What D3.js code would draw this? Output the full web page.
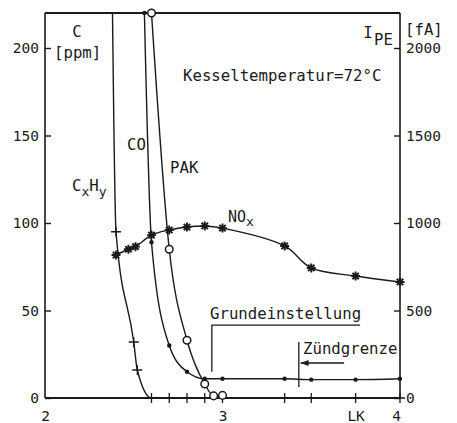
<!DOCTYPE html>
<html>
<head>
<meta charset="utf-8">
<script src="https://cdn.jsdelivr.net/npm/d3@7"></script>
<style>
  html, body { margin: 0; padding: 0; background: #ffffff; }
  svg { display: block; }
  .mono { font-family: "DejaVu Sans Mono", monospace; fill: #1a1a1a; }
</style>
</head>
<body>
<svg id="chart" width="457" height="423"></svg>
<script>
// ---------- data ----------
const xTickValues = [2, 3, 3.75, 4];
const xTickLabels = ["2", "3", "LK", "4"];
const yLeftTicks = [0, 50, 100, 150, 200];
const yRightTicks = [0, 500, 1000, 1500, 2000];

// C_xH_y  [ppm]  (+ markers)
const cxhyX = [2.38, 2.4, 2.5, 2.52, 2.6, 2.7, 2.8, 2.9, 3.0, 3.35, 3.5, 3.75, 4.0];
const cxhyY = [222, 95, 32, 16, 0, 0, 0, 0, 0, 0, 0, 0, 0];

// CO [ppm] (dot markers)
const coX = [2.56, 2.6, 2.7, 2.8, 2.9, 3.0, 3.35, 3.5, 3.75, 4.0];
const coY = [220, 89, 30, 15, 11, 11, 11, 10.5, 10.5, 11];

// PAK (I_PE, shown on same grid) (open circles)
const pakX = [2.6, 2.7, 2.8, 2.9, 2.95, 3.0];
const pakY = [220, 85, 33, 8, 1.2, 1.5];

// NO_x [ppm] (asterisk markers)
const noxX = [2.4, 2.47, 2.51, 2.6, 2.7, 2.8, 2.9, 3.0, 3.35, 3.5, 3.75, 4.0];
const noxY = [81.7, 85, 86.5, 93.1, 96, 97.7, 98.3, 97.1, 86.9, 74.3, 69.7, 66.3];

// annotation brackets (data coordinates)
const grundBracket = [[2.94, 15], [2.94, 41.7], [3.775, 41.7]];
const zuendLine = [[3.43, 6.3], [3.43, 32]];
const zuendArrow = [[3.685, 20], [3.44, 20]];

// ---------- layout ----------
const svg = d3.select("#chart");
const x = d3.scaleLinear().domain([2, 4]).range([45, 400]);
const y = d3.scaleLinear().domain([0, 220]).range([398, 13]);
const yR = d3.scaleLinear().domain([0, 2200]).range([398, 13]);
const ink = "#1a1a1a";

svg.append("defs").append("clipPath").attr("id", "plot")
  .append("rect").attr("x", 45).attr("y", 13).attr("width", 355).attr("height", 385);

// frame
svg.append("line").attr("x1", 45).attr("x2", 400).attr("y1", 13).attr("y2", 13)
  .attr("stroke", ink).attr("stroke-width", 2);
svg.append("line").attr("x1", 45).attr("x2", 45).attr("y1", 13).attr("y2", 398)
  .attr("stroke", ink).attr("stroke-width", 1.6);
svg.append("line").attr("x1", 400).attr("x2", 400).attr("y1", 13).attr("y2", 398)
  .attr("stroke", ink).attr("stroke-width", 1.6);
svg.append("line").attr("x1", 45).attr("x2", 400).attr("y1", 398).attr("y2", 398)
  .attr("stroke", ink).attr("stroke-width", 2.2);

// axes
const gL = svg.append("g").attr("transform", "translate(45,0)")
  .call(d3.axisLeft(y).tickValues(yLeftTicks).tickSize(-6).tickPadding(6)
    .tickFormat(d3.format("d")));
const gR = svg.append("g").attr("transform", "translate(400,0)")
  .call(d3.axisRight(yR).tickValues(yRightTicks).tickSize(-6).tickPadding(6)
    .tickFormat(d3.format("d")));
const gB = svg.append("g").attr("transform", "translate(0,398)")
  .call(d3.axisBottom(x).tickValues(xTickValues).tickSize(0).tickPadding(13)
    .tickFormat((d, i) => xTickLabels[i]));
[gL, gR, gB].forEach(g => {
  g.select(".domain").remove();
  g.selectAll("line").attr("stroke", ink).attr("stroke-width", 1.4);
  g.selectAll("text").attr("fill", ink)
    .style("font-family", "'DejaVu Sans Mono', monospace").style("font-size", "14.5px");
});
gB.selectAll(".tick").filter(d => d === 4).select("text").attr("dx", -4);

// lines
const zip = (xs, ys) => xs.map((v, i) => [v, ys[i]]);
const line = d3.line().x(d => x(d[0])).y(d => y(d[1])).curve(d3.curveMonotoneX);
const smooth = d3.line().x(d => x(d[0])).y(d => y(d[1])).curve(d3.curveCatmullRom.alpha(0.5));
const plot = svg.append("g").attr("clip-path", "url(#plot)");
[[cxhyX, cxhyY, line], [coX, coY, line], [pakX, pakY, line], [noxX, noxY, smooth]].forEach(([xs, ys, gen]) => {
  plot.append("path").datum(zip(xs, ys)).attr("d", gen)
    .attr("fill", "none").attr("stroke", ink).attr("stroke-width", 1.4);
});

// markers
const inRange = d => d[1] <= 220;
svg.append("g").selectAll("path").data(zip(cxhyX, cxhyY).filter(inRange)).join("path")
  .attr("transform", d => `translate(${x(d[0])},${y(d[1])})`)
  .attr("d", "M-5,0H5M0,-5V5").attr("stroke", ink).attr("stroke-width", 1.3);
svg.append("g").selectAll("circle").data(zip(coX, coY)).join("circle")
  .attr("cx", d => x(d[0])).attr("cy", d => y(d[1])).attr("r", 2.2).attr("fill", ink);
svg.append("g").selectAll("circle").data(zip(pakX, pakY)).join("circle")
  .attr("cx", d => x(d[0])).attr("cy", d => y(d[1])).attr("r", 3.8)
  .attr("fill", "#fff").attr("stroke", ink).attr("stroke-width", 1.5);
svg.append("g").selectAll("path").data(zip(noxX, noxY)).join("path")
  .attr("transform", d => `translate(${x(d[0])},${y(d[1])})`)
  .attr("d", "M-4.5,0H4.5M0,-4.5V4.5M-3.2,-3.2L3.2,3.2M-3.2,3.2L3.2,-3.2")
  .attr("stroke", ink).attr("stroke-width", 1.9);

// annotation lines
const pline = d3.line().x(d => x(d[0])).y(d => y(d[1]));
svg.append("path").attr("d", pline(grundBracket)).attr("fill", "none")
  .attr("stroke", ink).attr("stroke-width", 1.3);
svg.append("path").attr("d", pline(zuendLine)).attr("fill", "none")
  .attr("stroke", ink).attr("stroke-width", 1.3);
svg.append("path").attr("d", pline(zuendArrow)).attr("fill", "none")
  .attr("stroke", ink).attr("stroke-width", 1.3);
{
  const ax = x(zuendArrow[1][0]), ay = y(zuendArrow[1][1]);
  svg.append("path").attr("d", `M${ax},${ay}L${ax + 8},${ay - 3}L${ax + 8},${ay + 3}Z`).attr("fill", ink);
}

// texts
const T = (tx, ty, str, size, anchor) => svg.append("text").attr("class", "mono")
  .attr("x", tx).attr("y", ty).attr("text-anchor", anchor || "start")
  .style("font-size", (size || 15.7) + "px").text(str);

T(77, 36.5, "C", 15.7, "middle");
T(54, 57.5, "[ppm]");
T(368, 37.5, "I", 15.7, "middle");
T(374, 45, "PE");
T(405, 34.5, "[fA]");
T(183, 81, "Kesseltemperatur=72°C");
T(127, 149.5, "CO");
T(170, 172.5, "PAK");
T(210, 318.5, "Grundeinstellung");
T(303, 353.5, "Zündgrenze");

const cx = svg.append("text").attr("class", "mono").attr("x", 72).attr("y", 191)
  .style("font-size", "15.7px");
cx.append("tspan").text("C");
cx.append("tspan").attr("dy", 5).style("font-size", "13px").text("x");
cx.append("tspan").attr("dy", -5).text("H");
cx.append("tspan").attr("dy", 5).style("font-size", "13px").text("y");

const nx = svg.append("text").attr("class", "mono").attr("x", 228).attr("y", 222)
  .style("font-size", "15px");
nx.append("tspan").text("NO");
nx.append("tspan").attr("dy", 4).style("font-size", "13px").text("x");
</script>
</body>
</html>
